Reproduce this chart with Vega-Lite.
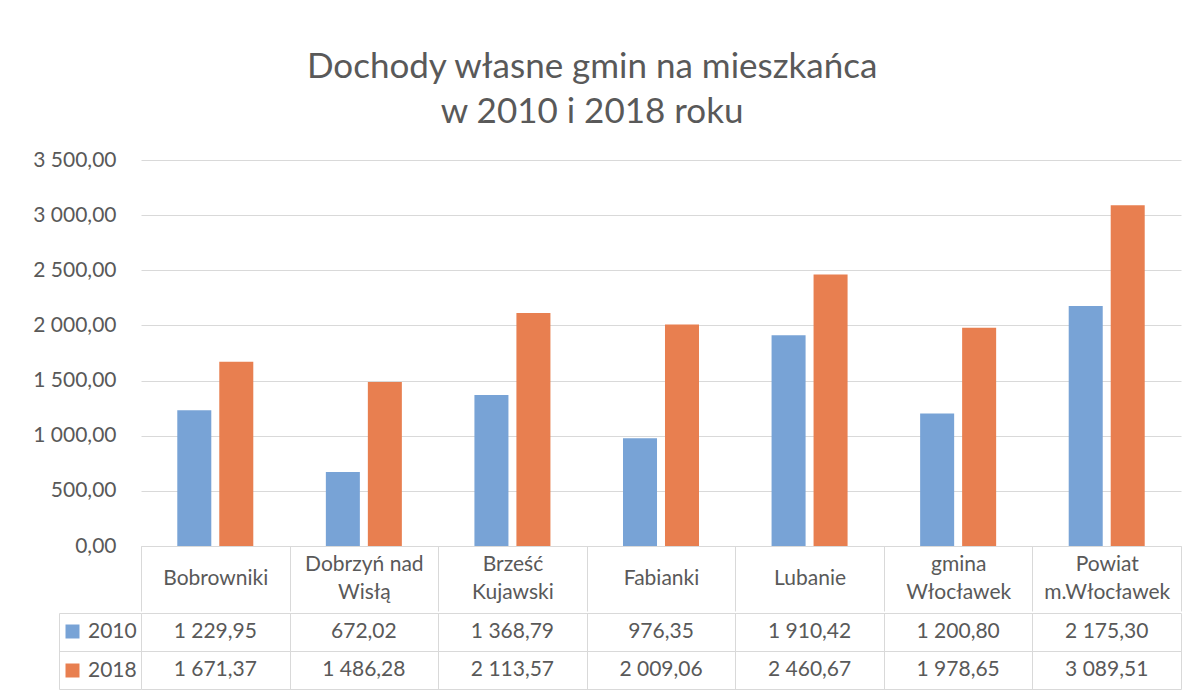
{
  "$schema": "https://vega.github.io/schema/vega-lite/v6.json",
  "background": "white",
  "padding": {"left": 32, "top": 50, "right": 10, "bottom": 5},
  "title": {
    "text": ["Dochody własne gmin na mieszkańca", "w 2010 i 2018 roku"],
    "fontSize": 35,
    "font": "Lato",
    "fontWeight": "normal",
    "color": "#595959",
    "lineHeight": 45,
    "anchor": "middle",
    "offset": 19,
    "dx": -15
  },
  "datasets": {
    "d": [
      {"gmina": "Bobrowniki", "rok": "2010", "wartosc": 1229.95},
      {"gmina": "Bobrowniki", "rok": "2018", "wartosc": 1671.37},
      {"gmina": "Dobrzyń nad Wisłą", "rok": "2010", "wartosc": 672.02},
      {"gmina": "Dobrzyń nad Wisłą", "rok": "2018", "wartosc": 1486.28},
      {"gmina": "Brześć Kujawski", "rok": "2010", "wartosc": 1368.79},
      {"gmina": "Brześć Kujawski", "rok": "2018", "wartosc": 2113.57},
      {"gmina": "Fabianki", "rok": "2010", "wartosc": 976.35},
      {"gmina": "Fabianki", "rok": "2018", "wartosc": 2009.06},
      {"gmina": "Lubanie", "rok": "2010", "wartosc": 1910.42},
      {"gmina": "Lubanie", "rok": "2018", "wartosc": 2460.67},
      {"gmina": "gmina Włocławek", "rok": "2010", "wartosc": 1200.80},
      {"gmina": "gmina Włocławek", "rok": "2018", "wartosc": 1978.65},
      {"gmina": "Powiat m.Włocławek", "rok": "2010", "wartosc": 2175.30},
      {"gmina": "Powiat m.Włocławek", "rok": "2018", "wartosc": 3089.51}
    ]
  },
  "data": {"name": "d"},
  "spacing": 0,
  "resolve": {"scale": {"color": "independent"}, "legend": {"color": "independent"}},
  "vconcat": [
    {
      "width": 1040,
      "height": 386,
      "mark": {"type": "bar"},
      "encoding": {
        "x": {
          "field": "gmina", "type": "nominal", "sort": null,
          "scale": {"paddingInner": 0, "paddingOuter": 0},
          "axis": {
            "title": null, "labelAngle": 0, "domainColor": "#d9d9d9", "tickColor": "#d9d9d9",
            "tickBand": "extent", "tickSize": 65,
            "labelPadding": {"condition": {"test": "indexof(datum.label, ' ') >= 0", "value": -46.5}, "value": -32.5},
            "labelBaseline": "middle",
            "labelFontSize": 21, "labelLineHeight": 28, "labelFont": "Lato", "labelColor": "#595959",
            "labelOverlap": false,
            "labelExpr": "indexof(datum.label, ' ') < 0 ? datum.label : [substring(datum.label, 0, lastindexof(datum.label, ' ')), substring(datum.label, lastindexof(datum.label, ' ') + 1)]"
          }
        },
        "xOffset": {"field": "rok", "type": "nominal", "scale": {"paddingInner": 0.19, "paddingOuter": 0.864}},
        "y": {
          "field": "wartosc", "type": "quantitative",
          "scale": {"domain": [0, 3500], "nice": false},
          "axis": {
            "title": null, "values": [0, 500, 1000, 1500, 2000, 2500, 3000, 3500],
            "format": ",.2f", "domain": false, "ticks": false, "labelPadding": 25,
            "gridColor": "#d9d9d9", "labelFontSize": 21, "labelFont": "Lato", "labelColor": "#595959"
          }
        },
        "color": {"field": "rok", "type": "nominal", "scale": {"range": ["#78A3D6", "#E87F50"]}, "legend": null}
      }
    },
    {
      "width": 1040,
      "height": 76,
      "encoding": {
        "x": {
          "field": "gmina", "type": "nominal", "sort": null,
          "scale": {"paddingInner": 0, "paddingOuter": 0},
          "axis": {"title": null, "labels": false, "ticks": false, "domain": false, "grid": true, "tickBand": "extent", "gridColor": "#d9d9d9"}
        },
        "y": {
          "field": "rok", "type": "nominal",
          "scale": {"paddingInner": 0, "paddingOuter": 0},
          "axis": {"title": null, "labels": false, "grid": true, "tickBand": "extent", "gridColor": "#d9d9d9",
                   "domain": true, "domainColor": "#d9d9d9", "offset": 82, "tickSize": -82, "tickColor": "#d9d9d9"}
        }
      },
      "layer": [
        {
          "mark": {"type": "rect", "opacity": 0},
          "encoding": {
            "color": {
              "field": "rok", "type": "nominal", "scale": {"range": ["#78A3D6", "#E87F50"]},
              "legend": {
                "title": null, "orient": "none", "legendX": -79, "legendY": 8,
                "symbolType": "square", "symbolSize": 196, "symbolOpacity": 1, "symbolStrokeWidth": 0,
                "labelFontSize": 21, "labelFont": "Lato", "labelColor": "#595959",
                "rowPadding": 17, "padding": 0, "labelOffset": 5
              }
            }
          }
        },
        {
          "mark": {"type": "text", "fontSize": 21, "font": "Lato", "color": "#595959"},
          "encoding": {"text": {"field": "wartosc", "type": "quantitative", "format": ",.2f"}}
        }
      ]
    }
  ],
  "config": {
    "view": {"stroke": null},
    "font": "Lato",
    "locale": {"number": {"decimal": ",", "thousands": " ", "grouping": [3], "currency": ["", " zł"]}}
  }
}
